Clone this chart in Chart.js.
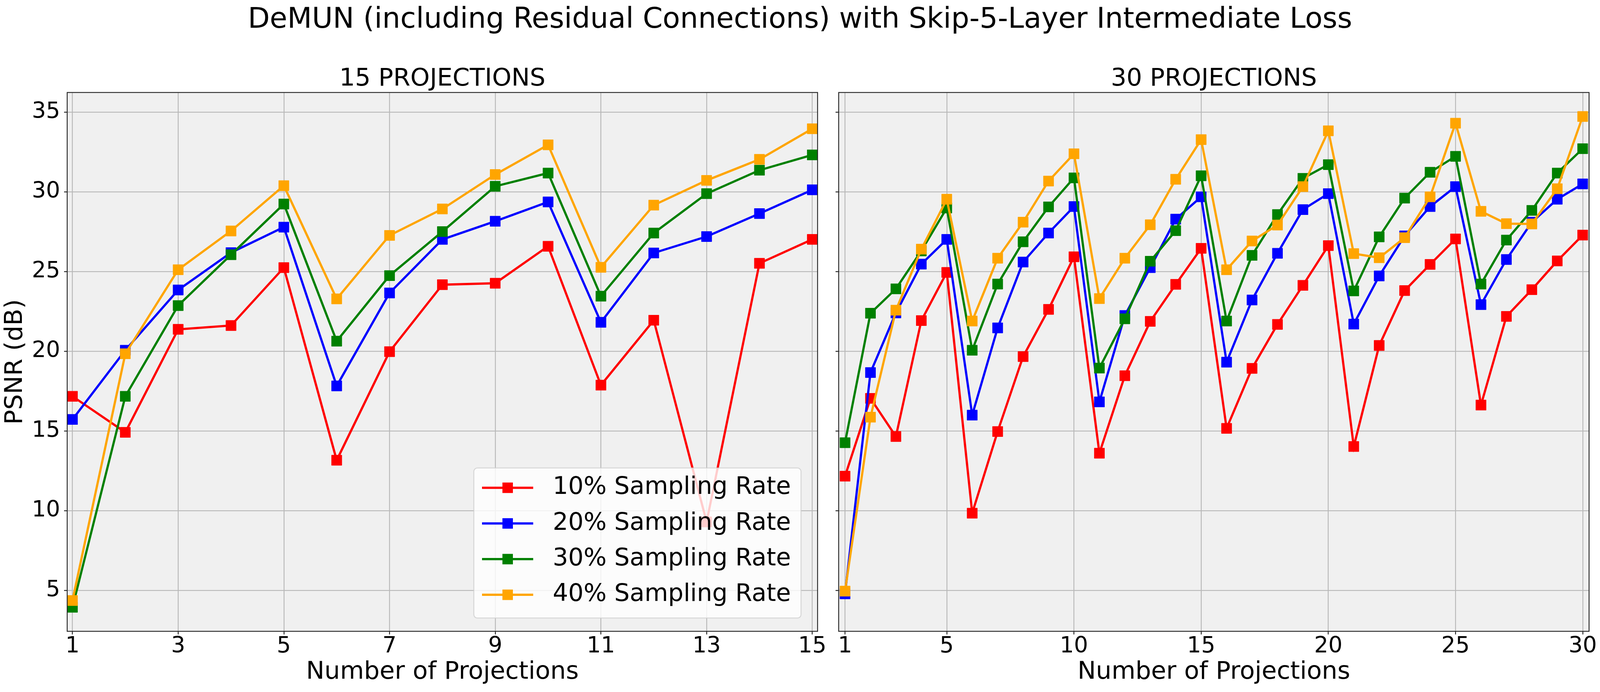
<!DOCTYPE html>
<html>
<head>
<meta charset="utf-8">
<script src="https://cdn.jsdelivr.net/npm/chart.js@4.4.1/dist/chart.umd.min.js"></script>
<style>
  body { margin: 0; background: #fff; }
  #wrap { position: relative; width: 5978px; height: 1771px; overflow: hidden; background: #fff; }
  #suptitle { position: absolute; left: 0; top: 9px; width: 100%; text-align: center;
              font: 73px/73px "DejaVu Sans"; color: #000; white-space: nowrap; }
  canvas { position: absolute; top: 0; }
</style>
</head>
<body>
<div id="wrap">
  <div id="suptitle">DeMUN (including Residual Connections) with Skip-5-Layer Intermediate Loss</div>
  <canvas id="left"></canvas>
  <canvas id="right"></canvas>
</div>
<script>
// data
var labels = ['10% Sampling Rate', '20% Sampling Rate', '30% Sampling Rate', '40% Sampling Rate'];
var colors = ['#ff0000', '#0000ff', '#008000', '#ffa500'];

var proj15 = [1, 2, 3, 4, 5, 6, 7, 8, 9, 10, 11, 12, 13, 14, 15];
var red15 = [17.19, 14.93, 21.39, 21.63, 25.26, 13.18, 19.99, 24.19, 24.28, 26.6, 17.89, 21.96, 9.31, 25.53, 27.03];
var blue15 = [15.74, 20.08, 23.86, 26.2, 27.8, 17.84, 23.67, 27.03, 28.17, 29.38, 21.83, 26.18, 27.21, 28.65, 30.14];
var green15 = [3.96, 17.19, 22.88, 26.07, 29.25, 20.65, 24.76, 27.52, 30.36, 31.19, 23.47, 27.43, 29.9, 31.37, 32.33];
var orange15 = [4.38, 19.86, 25.13, 27.56, 30.4, 23.3, 27.28, 28.94, 31.1, 32.96, 25.28, 29.18, 30.73, 32.05, 33.97];

var proj30 = [1, 2, 3, 4, 5, 6, 7, 8, 9, 10, 11, 12, 13, 14, 15, 16, 17, 18, 19, 20, 21, 22, 23, 24, 25, 26, 27, 28, 29, 30];
var red30 = [12.18, 17.06, 14.67, 21.94, 24.96, 9.86, 14.98, 19.68, 22.64, 25.94, 13.62, 18.48, 21.89, 24.21, 26.47,
             15.18, 18.94, 21.7, 24.15, 26.64, 14.04, 20.38, 23.82, 25.46, 27.06, 16.64, 22.2, 23.88, 25.68, 27.3];
var blue30 = [4.8, 18.68, 22.42, 25.48, 27.03, 16.01, 21.48, 25.61, 27.43, 29.09, 16.84, 22.26, 25.26, 28.3, 29.7,
              19.33, 23.23, 26.16, 28.9, 29.9, 21.72, 24.74, 27.25, 29.09, 30.34, 22.94, 25.77, 28.11, 29.55, 30.51];
var green30 = [14.28, 22.4, 23.93, 26.31, 29.0, 20.08, 24.23, 26.88, 29.07, 30.89, 18.96, 22.05, 25.66, 27.58, 31.02,
               21.91, 26.03, 28.59, 30.86, 31.72, 23.8, 27.19, 29.62, 31.24, 32.24, 24.23, 26.99, 28.85, 31.19, 32.72];
var orange30 = [4.97, 15.88, 22.59, 26.42, 29.55, 21.91, 25.85, 28.11, 30.69, 32.4, 23.32, 25.85, 27.95, 30.8, 33.29,
                25.13, 26.93, 27.93, 30.34, 33.84, 26.14, 25.88, 27.14, 29.7, 34.32, 28.79, 28.02, 28.0, 30.21, 34.74];

var yTicks = [5, 10, 15, 20, 25, 30, 35];
var xTicks15 = [1, 3, 5, 7, 9, 11, 13, 15];
var xTicks30 = [1, 5, 10, 15, 20, 25, 30];

Chart.defaults.font.family = '"DejaVu Sans"';
Chart.defaults.color = '#000';

// page size: the window may be narrower than the figure, so fit the width to it
var W = Math.min(window.innerWidth || 5978, 5978);
var H = 1771;
var leftMargin = 172, gap = 54, rightMargin = 28;
var plotW = (W - leftMargin - gap - rightMargin) / 2;
var leftW = Math.round(leftMargin + plotW + gap / 2);

var wrap = document.getElementById('wrap');
wrap.style.width = W + 'px';
var cvL = document.getElementById('left'), cvR = document.getElementById('right');
cvL.width = leftW; cvL.height = H; cvL.style.left = '0px';
cvR.width = W - leftW; cvR.height = H; cvR.style.left = leftW + 'px';

function points(xs, ys) {
    return xs.map(function (x, i) { return { x: x, y: ys[i] }; });
}

function makeDatasets(xs, all) {
    return all.map(function (ys, i) {
        return {
            label: labels[i],
            data: points(xs, ys),
            borderColor: colors[i],
            backgroundColor: colors[i],
            borderWidth: 5.7,
            pointStyle: 'rect',
            pointRadius: 18.5,
            pointBorderWidth: 1,
            pointHoverRadius: 18.5,
            order: all.length - i   // last series drawn on top
        };
    });
}

// axes background and the four spines
var frame = {
    id: 'frame',
    beforeDraw: function (chart) {
        var a = chart.chartArea, ctx = chart.ctx;
        ctx.save();
        ctx.fillStyle = '#f0f0f0';
        ctx.fillRect(a.left, a.top, a.right - a.left, a.bottom - a.top);
        ctx.restore();
    },
    afterDatasetsDraw: function (chart) {
        var a = chart.chartArea, ctx = chart.ctx;
        ctx.save();
        ctx.strokeStyle = '#262626';
        ctx.lineWidth = 2.3;
        ctx.strokeRect(a.left, a.top, a.right - a.left, a.bottom - a.top);
        ctx.restore();
    }
};

// matplotlib-like legend in the lower right corner
var boxLegend = {
    id: 'boxLegend',
    afterDraw: function (chart) {
        var a = chart.chartArea, ctx = chart.ctx;
        var sets = chart.data.datasets;
        ctx.save();
        ctx.font = '62px "DejaVu Sans"';
        var tw = 0;
        sets.forEach(function (d) { tw = Math.max(tw, ctx.measureText(d.label).width); });
        var w = 202 + tw + 26, h = 384;
        var x = a.right - 42.4 - w, y = a.bottom - 34 - h, r = 9;
        ctx.beginPath();
        ctx.moveTo(x + r, y);
        ctx.arcTo(x + w, y, x + w, y + h, r);
        ctx.arcTo(x + w, y + h, x, y + h, r);
        ctx.arcTo(x, y + h, x, y, r);
        ctx.arcTo(x, y, x + w, y, r);
        ctx.closePath();
        ctx.fillStyle = 'rgba(255,255,255,0.8)';
        ctx.fill();
        ctx.strokeStyle = 'rgba(204,204,204,0.8)';
        ctx.lineWidth = 2.3;
        ctx.stroke();
        sets.forEach(function (d, i) {
            var cy = y + 50.6 + i * 91.3;
            ctx.strokeStyle = d.borderColor;
            ctx.lineWidth = 5.7;
            ctx.beginPath();
            ctx.moveTo(x + 21, cy);
            ctx.lineTo(x + 152, cy);
            ctx.stroke();
            ctx.fillStyle = d.borderColor;
            ctx.fillRect(x + 86.6 - 13.4, cy - 13.4, 26.8, 26.8);
            ctx.fillStyle = '#000';
            ctx.textBaseline = 'middle';
            ctx.textAlign = 'left';
            ctx.fillText(d.label, x + 202, cy);
        });
        ctx.restore();
    }
};

function makeChart(canvas, title, xs, all, xMin, xMax, xTickList, yAxisWidth, padRight, showY, extraPlugins) {
    var grid = {
        color: '#b8b8b8',
        lineWidth: 2.3,
        tickColor: '#262626',
        tickWidth: 2.3,
        tickLength: 8,
        drawTicks: true
    };
    return new Chart(canvas.getContext('2d'), {
        type: 'line',
        data: { datasets: makeDatasets(xs, all) },
        options: {
            responsive: false,
            animation: false,
            devicePixelRatio: 1,
            events: [],
            layout: { padding: { left: 0, right: padRight, top: 0, bottom: 0 } },
            plugins: {
                legend: { display: false },
                tooltip: { enabled: false },
                title: {
                    display: true,
                    fullSize: false,
                    text: title,
                    color: '#000',
                    font: { size: 63, weight: 'normal', lineHeight: 1 },
                    padding: { top: 171.5, bottom: 2.2 }
                }
            },
            scales: {
                x: {
                    type: 'linear',
                    min: xMin,
                    max: xMax,
                    grid: grid,
                    border: { display: false },
                    ticks: { font: { size: 57, lineHeight: 1 }, padding: 3, color: '#000', maxRotation: 0 },
                    title: {
                        display: true,
                        text: 'Number of Projections',
                        color: '#000',
                        font: { size: 63, lineHeight: 1 },
                        padding: { top: 0, bottom: 18.6 }
                    },
                    afterBuildTicks: function (s) {
                        s.ticks = xTickList.map(function (v) { return { value: v }; });
                    },
                    afterFit: function (s) {
                        s.height = H - 1615.7;
                        s.paddingLeft = 0;
                        s.paddingRight = 0;
                    }
                },
                y: {
                    type: 'linear',
                    min: 2.45,
                    max: 36.245,
                    grid: grid,
                    border: { display: false },
                    ticks: {
                        font: { size: 57, lineHeight: 1 },
                        padding: 10,
                        color: '#000',
                        callback: function (v) { return showY ? String(v) : ''; }
                    },
                    title: {
                        display: showY,
                        text: 'PSNR (dB)',
                        color: '#000',
                        font: { size: 63, lineHeight: 1 },
                        padding: { top: 8.5, bottom: 0 }
                    },
                    afterBuildTicks: function (s) {
                        s.ticks = yTicks.map(function (v) { return { value: v }; });
                    },
                    afterFit: function (s) {
                        s.width = yAxisWidth;
                        s.paddingTop = 0;
                        s.paddingBottom = 0;
                    }
                }
            }
        },
        plugins: [frame].concat(extraPlugins)
    });
}

makeChart(cvL, '15 PROJECTIONS', proj15, [red15, blue15, green15, orange15],
          0.9, 15.1, xTicks15, leftMargin, leftW - leftMargin - plotW, true, [boxLegend]);
makeChart(cvR, '30 PROJECTIONS', proj30, [red30, blue30, green30, orange30],
          0.75, 30.25, xTicks30, gap - (leftW - leftMargin - plotW), rightMargin, false, []);
</script>
</body>
</html>
